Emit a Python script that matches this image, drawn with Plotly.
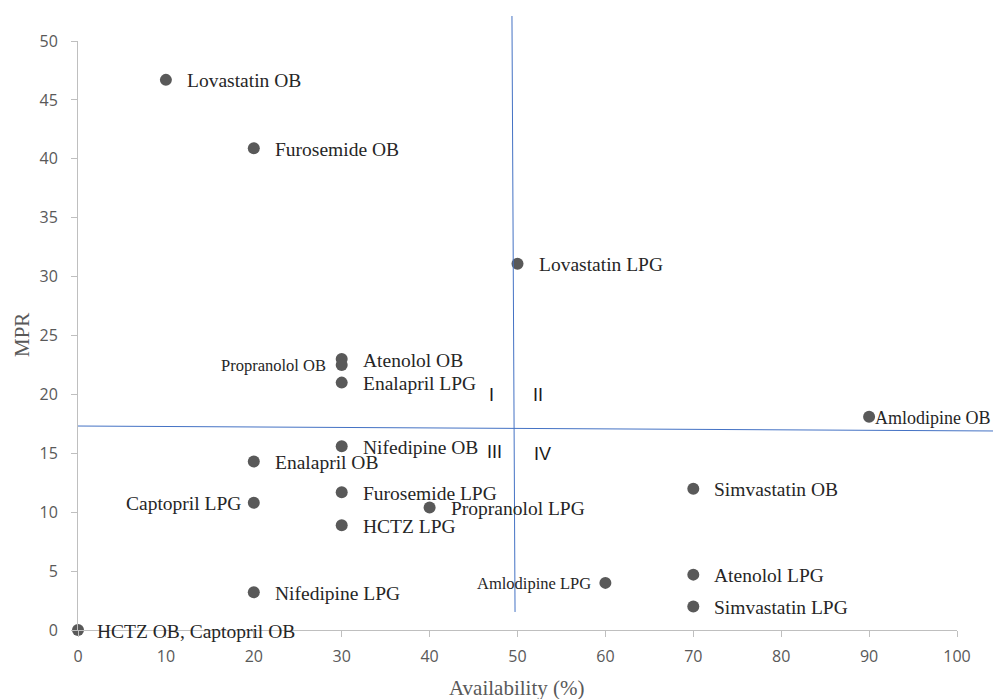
import plotly.graph_objects as go

# ---- data ----
drugs = ["Lovastatin OB", "Furosemide OB", "Lovastatin LPG", "Atenolol OB", "Propranolol OB",
         "Enalapril LPG", "Nifedipine OB", "Enalapril OB", "Furosemide LPG", "Captopril LPG",
         "Propranolol LPG", "HCTZ LPG", "Simvastatin OB", "Amlodipine OB", "Amlodipine LPG",
         "Atenolol LPG", "Simvastatin LPG", "Nifedipine LPG", "HCTZ OB, Captopril OB"]
availability = [10, 20, 50, 30, 30, 30, 30, 20, 30, 20, 40, 30, 70, 90, 60, 70, 70, 20, 0]
mpr = [46.7, 40.9, 31.1, 23.0, 22.5, 21.0, 15.6, 14.3, 11.7, 10.8, 10.4, 8.9, 12.0, 18.1,
       4.0, 4.7, 2.0, 3.2, 0.0]

x_ticks = [0, 10, 20, 30, 40, 50, 60, 70, 80, 90, 100]
y_ticks = [0, 5, 10, 15, 20, 25, 30, 35, 40, 45, 50]

quadrant_names = ["I", "II", "III", "IV"]
quadrant_x = [47.0, 52.3, 47.4, 52.8]
quadrant_y = [19.95, 19.95, 15.1, 14.9]

# ---- label styling (placement per label) ----
left_labels = {"Propranolol OB": (-14, 16.5), "Captopril LPG": (-11, 19.5), "Amlodipine LPG": (-12, 16.5)}
right_shift = {"Amlodipine OB": (4, 18), "HCTZ OB, Captopril OB": (17, 19.5)}

GRAY = "#595959"
SERIF = "Liberation Serif, Times New Roman, serif"

fig = go.Figure()
fig.add_trace(go.Scatter(
    x=availability, y=mpr, mode="markers",
    marker=dict(size=12, color="#595959"),
    cliponaxis=False, hoverinfo="text", text=drugs, showlegend=False,
))

annotations = []
for name, xv, yv in zip(drugs, availability, mpr):
    if name in left_labels:
        sh, fs = left_labels[name]
        anchor = "right"
    else:
        sh, fs = right_shift.get(name, (19, 19.5))
        anchor = "left"
    annotations.append(dict(
        x=xv, y=yv, xref="x", yref="y", text=name, showarrow=False,
        xanchor=anchor, yanchor="middle", xshift=sh, yshift=-1,
        font=dict(family=SERIF, size=fs, color="#262626"),
    ))

for q, qx, qy in zip(quadrant_names, quadrant_x, quadrant_y):
    annotations.append(dict(
        x=qx, y=qy, xref="x", yref="y", text=q, showarrow=False,
        xanchor="center", yanchor="middle",
        font=dict(family="Liberation Sans, Arial, sans-serif", size=18, color="#1a1a1a"),
    ))

annotations.append(dict(x=-0.0637, y=0.5008, xref="paper", yref="paper", text="MPR",
                        textangle=-90, showarrow=False, xanchor="center", yanchor="middle",
                        font=dict(family=SERIF, size=21, color=GRAY)))
annotations.append(dict(x=0.4994, y=-0.0985, xref="paper", yref="paper", text="Availability (%)",
                        showarrow=False, xanchor="center", yanchor="middle",
                        font=dict(family=SERIF, size=21, color=GRAY)))

shapes = [
    dict(type="line", xref="paper", yref="paper", x0=0.4937, y0=1.0424, x1=0.4972, y1=0.0306,
         line=dict(color="#4472C4", width=1)),
    dict(type="line", xref="paper", yref="paper", x0=0.0, y0=0.3463, x1=1.041, y1=0.3379,
         line=dict(color="#4472C4", width=1)),
]

axis_common = dict(
    showgrid=False, zeroline=False, showline=True, linecolor="#BFBFBF", linewidth=1,
    ticks="outside", ticklen=6, tickcolor="#BFBFBF", tickwidth=1,
    tickfont=dict(family="Open Sans, sans-serif", size=16, color=GRAY),
)

fig.update_layout(
    width=993, height=699,
    margin=dict(l=78, r=36, t=41, b=69),
    paper_bgcolor="white", plot_bgcolor="white",
    xaxis=dict(range=[0, 100], tickvals=x_ticks, ticklabelstandoff=6, **axis_common),
    yaxis=dict(range=[0, 50], tickvals=y_ticks, ticklabelstandoff=10, **axis_common),
    annotations=annotations, shapes=shapes,
)

# remove the default 8px page margin so the 993x699 figure fills the window exactly
fig.write_html("out.html", config={"displayModeBar": False},
               post_script="document.body.style.margin='0';document.body.style.overflow='hidden';")
